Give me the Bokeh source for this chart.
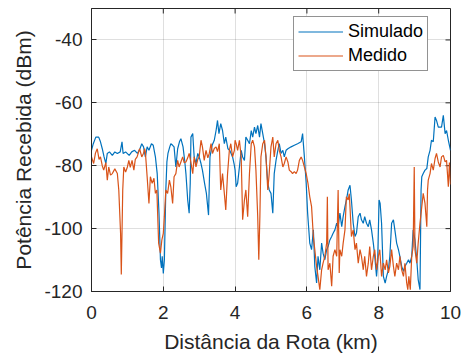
import math
from bokeh.plotting import figure
from bokeh.models import FixedTicker, Range1d, Legend, LegendItem, ColumnDataSource
from bokeh.embed import file_html
from bokeh.resources import INLINE

# Received power along the route: simulated vs. measured
dist_sim = [
    0.00, 0.05, 0.12, 0.20, 0.25, 0.30, 0.35, 0.40, 0.44, 0.50, 0.58, 0.65, 0.72, 0.80,
    0.85, 0.88, 0.95, 1.05, 1.12, 1.20, 1.28, 1.35, 1.40, 1.45, 1.50, 1.55, 1.60, 1.67,
    1.72, 1.78, 1.83, 1.88, 1.92, 1.95, 1.97, 2.00, 2.03, 2.07, 2.10, 2.13, 2.18, 2.21,
    2.26, 2.30, 2.35, 2.40, 2.45, 2.49, 2.55, 2.60, 2.63, 2.68, 2.72, 2.75, 2.77, 2.82,
    2.86, 2.91, 2.96, 3.00, 3.05, 3.09, 3.15, 3.20, 3.26, 3.30, 3.36, 3.42, 3.47, 3.51,
    3.55, 3.60, 3.65, 3.70, 3.74, 3.80, 3.85, 3.93, 3.97, 4.00, 4.03, 4.07, 4.12, 4.17,
    4.21, 4.26, 4.30, 4.35, 4.40, 4.45, 4.49, 4.54, 4.58, 4.63, 4.68, 4.72, 4.77, 4.82,
    4.86, 4.91, 4.95, 5.00, 5.05, 5.09, 5.14, 5.19, 5.23, 5.28, 5.33, 5.37, 5.42, 5.47,
    5.56, 5.65, 5.74, 5.84, 5.88, 5.93, 5.98, 6.02, 6.04, 6.08, 6.13, 6.18, 6.22, 6.27,
    6.31, 6.36, 6.41, 6.45, 6.50, 6.55, 6.59, 6.64, 6.69, 6.73, 6.78, 6.83, 6.87, 6.92,
    6.97, 7.01, 7.06, 7.10, 7.15, 7.20, 7.24, 7.29, 7.34, 7.38, 7.43, 7.48, 7.52, 7.57,
    7.61, 7.66, 7.71, 7.75, 7.80, 7.85, 7.89, 7.94, 7.97, 8.01, 8.04, 8.08, 8.13, 8.18,
    8.22, 8.27, 8.31, 8.36, 8.41, 8.45, 8.50, 8.55, 8.59, 8.64, 8.69, 8.73, 8.78, 8.83,
    8.87, 8.92, 8.96, 9.01, 9.06, 9.10, 9.15, 9.18, 9.20, 9.24, 9.29, 9.34, 9.38, 9.43,
    9.47, 9.52, 9.57, 9.61, 9.66, 9.71, 9.75, 9.80, 9.85, 9.89, 9.94, 10.00,
]
rx_sim = [
    -75.1, -73.0, -70.9, -70.9, -72.4, -74.6, -77.2, -79.3, -76.1, -75.6, -76.7, -75.6, -76.1, -75.6,
    -72.4, -76.1, -75.6, -76.7, -75.6, -75.1, -76.1, -74.6, -73.0, -74.0, -77.2, -74.0, -75.1, -73.0,
    -73.5, -77.2, -82.5, -95.1, -109.9, -112.5, -108.8, -114.3, -110.0, -87.7, -78.8, -76.1, -74.0, -73.0,
    -73.5, -74.0, -80.4, -74.6, -72.4, -71.4, -74.0, -78.8, -82.5, -90.9, -95.1, -85.6, -70.9, -69.8,
    -77.2, -79.3, -76.1, -77.2, -79.3, -81.4, -85.6, -88.8, -95.7, -77.2, -73.5, -71.9, -68.8, -65.6,
    -69.8, -66.6, -68.8, -73.0, -70.9, -74.6, -75.1, -77.2, -79.3, -81.4, -86.7, -85.6, -80.4, -75.1,
    -77.2, -78.3, -70.9, -71.9, -73.0, -68.8, -70.9, -67.7, -69.8, -67.2, -70.9, -66.6, -69.8, -73.0,
    -77.2, -85.6, -87.7, -88.8, -95.1, -82.5, -78.3, -75.1, -73.0, -76.1, -75.1, -77.2, -75.1, -74.6,
    -74.0, -73.5, -73.0, -72.4, -69.8, -77.2, -85.6, -95.0, -98.3, -104.6, -106.7, -100.4, -112.0, -117.3,
    -108.8, -113.1, -104.6, -107.8, -109.9, -106.7, -105.7, -103.6, -102.5, -101.5, -100.4, -98.3, -99.4, -95.1,
    -99.4, -96.2, -93.0, -90.9, -87.7, -86.2, -90.9, -98.3, -102.5, -101.5, -96.2, -95.1, -97.2, -98.3,
    -96.2, -98.3, -99.4, -97.2, -100.4, -104.6, -108.8, -115.2, -111.0, -90.9, -92.0, -98.3, -115.2, -117.3,
    -115.2, -113.1, -108.8, -98.3, -97.2, -100.4, -104.6, -106.7, -108.8, -112.0, -113.6, -112.0, -111.0, -109.9,
    -111.0, -108.8, -100.4, -103.6, -109.9, -116.2, -119.4, -87.7, -83.5, -82.5, -81.4, -80.9, -77.2, -75.1,
    -71.9, -72.4, -64.5, -65.6, -67.7, -67.7, -67.7, -64.0, -69.8, -68.8, -71.9, -75.1,
]

dist_med = [
    0.00, 0.06, 0.11, 0.16, 0.21, 0.25, 0.30, 0.34, 0.40, 0.44, 0.48, 0.53, 0.58, 0.65,
    0.72, 0.76, 0.81, 0.83, 0.87, 0.90, 0.95, 1.00, 1.04, 1.08, 1.13, 1.18, 1.22, 1.27,
    1.34, 1.40, 1.45, 1.48, 1.50, 1.55, 1.60, 1.64, 1.69, 1.74, 1.78, 1.82, 1.87, 1.92,
    1.96, 2.00, 2.03, 2.07, 2.12, 2.17, 2.21, 2.26, 2.30, 2.35, 2.40, 2.44, 2.49, 2.54,
    2.58, 2.63, 2.68, 2.72, 2.77, 2.82, 2.86, 2.91, 2.96, 3.00, 3.05, 3.09, 3.14, 3.19,
    3.24, 3.28, 3.33, 3.37, 3.42, 3.47, 3.51, 3.56, 3.60, 3.65, 3.70, 3.74, 3.79, 3.84,
    3.88, 3.93, 3.98, 4.00, 4.03, 4.07, 4.12, 4.17, 4.21, 4.26, 4.30, 4.35, 4.40, 4.45,
    4.49, 4.54, 4.58, 4.63, 4.66, 4.69, 4.72, 4.77, 4.82, 4.86, 4.91, 4.95, 5.00, 5.05,
    5.09, 5.14, 5.19, 5.23, 5.28, 5.33, 5.37, 5.42, 5.47, 5.51, 5.56, 5.60, 5.65, 5.70,
    5.74, 5.79, 5.84, 5.88, 5.93, 5.98, 6.03, 6.08, 6.13, 6.18, 6.22, 6.27, 6.31, 6.36,
    6.41, 6.45, 6.50, 6.55, 6.57, 6.59, 6.64, 6.69, 6.73, 6.78, 6.83, 6.87, 6.90, 6.92,
    6.97, 7.01, 7.06, 7.10, 7.15, 7.18, 7.20, 7.24, 7.29, 7.34, 7.38, 7.43, 7.48, 7.52,
    7.57, 7.61, 7.66, 7.71, 7.75, 7.80, 7.85, 7.89, 7.94, 7.99, 8.03, 8.08, 8.13, 8.18,
    8.22, 8.27, 8.31, 8.36, 8.41, 8.45, 8.50, 8.55, 8.59, 8.64, 8.69, 8.73, 8.78, 8.81,
    8.84, 8.88, 8.92, 8.96, 8.99, 9.01, 9.06, 9.10, 9.15, 9.20, 9.24, 9.29, 9.34, 9.36,
    9.38, 9.43, 9.47, 9.52, 9.57, 9.61, 9.66, 9.71, 9.75, 9.80, 9.85, 9.89, 9.94, 9.97,
    10.00,
]
rx_med = [
    -77.2, -79.3, -76.0, -74.6, -78.0, -77.2, -80.0, -81.4, -79.0, -84.6, -80.4, -83.0, -82.5, -81.0,
    -82.5, -87.7, -101.5, -114.6, -87.7, -80.4, -82.0, -80.4, -78.3, -80.5, -78.3, -81.4, -78.0, -77.2,
    -74.6, -77.2, -76.0, -74.6, -75.6, -83.5, -92.0, -83.5, -85.6, -84.0, -88.8, -87.7, -104.6, -107.8,
    -103.6, -101.5, -96.2, -87.7, -88.8, -84.6, -86.7, -92.0, -83.5, -82.5, -78.3, -80.4, -78.8, -77.2,
    -79.0, -78.8, -77.5, -76.1, -79.0, -82.5, -77.2, -80.4, -78.0, -77.2, -71.9, -74.0, -78.3, -75.1,
    -77.5, -76.1, -73.0, -76.1, -74.5, -74.0, -75.5, -73.0, -87.7, -82.5, -88.8, -94.1, -82.5, -75.1,
    -73.0, -77.2, -75.1, -71.9, -73.0, -75.1, -71.9, -77.2, -97.2, -90.9, -87.7, -96.2, -82.5, -73.0,
    -71.9, -74.0, -81.4, -96.2, -109.9, -96.2, -77.2, -73.0, -71.9, -77.2, -87.7, -82.5, -74.0, -70.9,
    -77.2, -73.0, -71.9, -75.1, -77.2, -80.4, -79.3, -77.2, -78.8, -81.4, -81.9, -82.5, -81.9, -82.5,
    -81.4, -78.3, -77.2, -78.3, -80.4, -82.5, -85.6, -89.9, -93.0, -102.5, -106.7, -112.0, -115.2, -119.4,
    -113.1, -111.0, -108.8, -104.6, -89.9, -113.1, -111.0, -118.3, -108.8, -106.7, -108.8, -87.7, -114.1, -106.7,
    -108.8, -104.6, -100.4, -89.9, -90.9, -88.9, -93.0, -102.5, -100.4, -106.7, -104.6, -111.0, -106.7, -108.8,
    -113.1, -108.8, -115.2, -111.0, -105.7, -113.1, -108.8, -106.7, -113.1, -108.8, -106.7, -115.2, -111.0, -113.1,
    -109.9, -114.1, -112.0, -106.7, -112.0, -115.2, -111.0, -113.1, -108.8, -113.1, -115.2, -111.0, -117.3, -119.4,
    -115.2, -119.4, -108.8, -105.7, -80.4, -106.7, -111.0, -104.6, -98.3, -93.0, -88.8, -92.0, -99.4, -87.7,
    -84.6, -82.5, -79.3, -81.4, -77.7, -76.1, -78.8, -80.4, -77.2, -76.7, -78.8, -78.3, -86.7, -79.0,
    -86.0,
]

x_ticks = [0, 2, 4, 6, 8, 10]
y_ticks = [-120, -100, -80, -60, -40]
x_lim = (0, 10)
y_lim = (-120, -30)

series_names = ["Simulado", "Medido"]
series_colors = ["#0072BD", "#D95319"]

x_label = "Distância da Rota (km)"
y_label = "Potência Recebida (dBm)"

FONT = "Liberation Sans"
INK = "#262626"

p = figure(width=463, height=356, output_backend="svg", toolbar_location=None,
           x_range=Range1d(*x_lim), y_range=Range1d(*y_lim),
           min_border_left=91, min_border_right=13, min_border_top=8,
           min_border_bottom=65, x_axis_label=x_label, y_axis_label=y_label)
p.background_fill_color = "white"
p.border_fill_color = "white"
p.outline_line_color = INK
p.outline_line_width = 1
p.outline_line_alpha = 1

for ax, ticks in ((p.xaxis[0], x_ticks), (p.yaxis[0], y_ticks)):
    ax.ticker = FixedTicker(ticks=ticks)
    # plain hyphen-minus labels
    ax.major_label_overrides = {t: str(t) for t in ticks}
    ax.axis_line_color = INK
    ax.major_tick_line_color = INK
    ax.major_tick_in = 5
    ax.major_tick_out = 0
    ax.minor_tick_line_color = None
    ax.major_label_text_font = FONT
    ax.major_label_text_font_size = "19px"
    ax.major_label_text_color = INK
    ax.axis_label_text_font = FONT
    ax.axis_label_text_font_size = "21px"
    ax.axis_label_text_font_style = "normal"
    ax.axis_label_text_color = INK

p.xaxis[0].major_label_standoff = 14
p.xaxis[0].axis_label_standoff = 8
p.yaxis[0].major_label_standoff = 9
p.yaxis[0].axis_label_standoff = 6

# inward tick marks along the top and right edges of the box
p.ray(x=x_ticks, y=[y_lim[1]] * len(x_ticks), length=5, length_units="screen",
      angle=-math.pi / 2, line_color=INK, line_width=1)
p.ray(x=[x_lim[1]] * len(y_ticks), y=y_ticks, length=5, length_units="screen",
      angle=math.pi, line_color=INK, line_width=1)

p.xgrid.ticker = FixedTicker(ticks=x_ticks)
p.ygrid.ticker = FixedTicker(ticks=y_ticks)
for g in (p.xgrid[0], p.ygrid[0]):
    g.grid_line_color = INK
    g.grid_line_alpha = 0.15
    g.grid_line_width = 1

src_sim = ColumnDataSource(dict(x=dist_sim, y=rx_sim))
src_med = ColumnDataSource(dict(x=dist_med, y=rx_med))
r_sim = p.line("x", "y", source=src_sim, line_color=series_colors[0], line_width=1.2)
r_med = p.line("x", "y", source=src_med, line_color=series_colors[1], line_width=1.2)

legend = Legend(items=[LegendItem(label=series_names[0], renderers=[r_sim]),
                       LegendItem(label=series_names[1], renderers=[r_med])],
                location=(202, 220))
legend.label_text_font = FONT
legend.label_text_font_size = "18px"
legend.label_text_color = "#000000"
legend.border_line_color = INK
legend.border_line_width = 1
legend.background_fill_color = "white"
legend.background_fill_alpha = 1
legend.padding = 4
legend.spacing = 3
legend.margin = 0
legend.glyph_width = 45
legend.glyph_height = 21
legend.label_height = 21
legend.label_standoff = 5
p.add_layout(legend, "center")

open("out.html", "w").write(file_html(p, INLINE))
